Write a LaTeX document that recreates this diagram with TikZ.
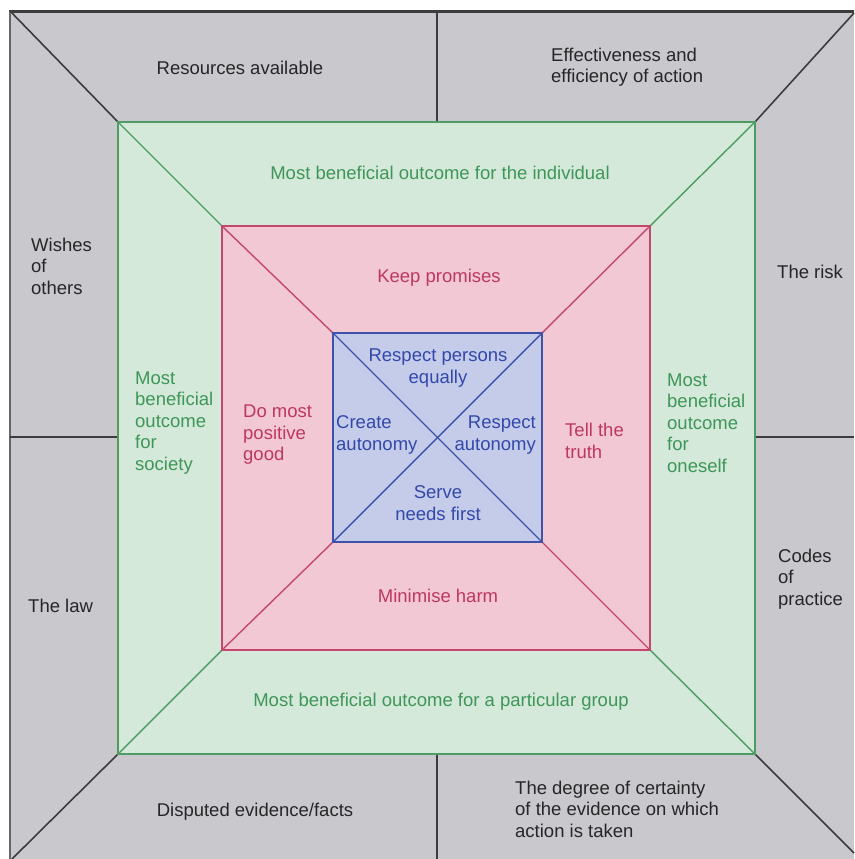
\documentclass[tikz,border=0pt]{standalone}
\usepackage{fontspec}
\setmainfont{Liberation Sans}
\definecolor{bggray}{RGB}{201,201,205}
\definecolor{edgegray}{RGB}{60,60,62}
\definecolor{greenfill}{RGB}{212,233,218}
\definecolor{greenline}{RGB}{78,155,100}
\definecolor{greentext}{RGB}{62,150,88}
\definecolor{pinkfill}{RGB}{241,200,212}
\definecolor{pinkline}{RGB}{196,72,110}
\definecolor{pinktext}{RGB}{190,55,100}
\definecolor{bluefill}{RGB}{196,204,234}
\definecolor{blueline}{RGB}{62,82,170}
\definecolor{bluetext}{RGB}{50,72,170}
\definecolor{graytext}{RGB}{38,38,40}
\tikzset{
  lbl/.style={inner sep=0pt, font=\fontsize{18.5}{21.5}\selectfont},
  graylbl/.style={lbl, text=graytext},
  greenlbl/.style={lbl, text=greentext},
  pinklbl/.style={lbl, text=pinktext},
  bluelbl/.style={lbl, text=bluetext},
  blackln/.style={draw=edgegray, line width=1.6pt},
  greenln/.style={draw=greenline, line width=1.4pt},
  pinkln/.style={draw=pinkline, line width=1.4pt},
  blueln/.style={draw=blueline, line width=1.4pt},
}
\begin{document}
\begin{tikzpicture}[x=1pt,y=-1pt]
\useasboundingbox (0,0) rectangle (854,859);
\fill[white] (0,0) rectangle (854,859);
% outer frame
\coordinate (O1) at (10,11);
\coordinate (O2) at (854,13);
\coordinate (O3) at (854,853);
\coordinate (O4) at (12,859);
\fill[bggray] (10,11) rectangle (854,859);
\draw[edgegray, line width=2.6pt] (9,11.5) -- (854,11.5);
\draw[gray!80!black, line width=1.2pt] (10,11) -- (10,859);
% green square
\coordinate (G1) at (118,122);
\coordinate (G2) at (755,122);
\coordinate (G3) at (755,754);
\coordinate (G4) at (118,754);
% pink square
\coordinate (P1) at (222,226);
\coordinate (P2) at (650,226);
\coordinate (P3) at (650,650);
\coordinate (P4) at (222,650);
% blue square
\coordinate (B1) at (333,333);
\coordinate (B2) at (542,333);
\coordinate (B3) at (542,542);
\coordinate (B4) at (333,542);
% dividers
\coordinate (Tm) at (437,11);
\coordinate (Tg) at (437,122);
\coordinate (Bm) at (437,859);
\coordinate (Bg) at (437,754);
\coordinate (Lm) at (10,437);
\coordinate (Lg) at (118,437);
\coordinate (Rm) at (854,437);
\coordinate (Rg) at (755,437);

\fill[greenfill] (G1) rectangle (G3);
\fill[pinkfill] (P1) rectangle (P3);
\fill[bluefill] (B1) rectangle (B3);

\draw[blackln] (O1) -- (G1);
\draw[blackln] (O2) -- (G2);
\draw[blackln] (O3) -- (G3);
\draw[blackln] (O4) -- (G4);
\draw[blackln] (Tm) -- (Tg);
\draw[blackln] (Bm) -- (Bg);
\draw[blackln] (Lm) -- (Lg);
\draw[blackln] (Rm) -- (Rg);

\draw[greenln] (G1) -- (G2) -- (G3) -- (G4) -- cycle;
\draw[greenln] (G1) -- (P1);
\draw[greenln] (G2) -- (P2);
\draw[greenln] (G3) -- (P3);
\draw[greenln] (G4) -- (P4);

\draw[pinkln] (P1) -- (P2) -- (P3) -- (P4) -- cycle;
\draw[pinkln] (P1) -- (B1);
\draw[pinkln] (P2) -- (B2);
\draw[pinkln] (P3) -- (B3);
\draw[pinkln] (P4) -- (B4);

\draw[blueln] (B1) -- (B2) -- (B3) -- (B4) -- cycle;
\draw[blueln] (B1) -- (B3);
\draw[blueln] (B2) -- (B4);

% gray labels
\node[graylbl] (res) at (240,68) {Resources available};
\node[graylbl, align=left, anchor=west] (eff) at (551,67) {Effectiveness and\\efficiency of action};
\node[graylbl, align=left, anchor=west] (wish) at (31,266) {Wishes\\of\\others};
\node[graylbl, anchor=west] (law) at (28,606) {The law};
\node[graylbl, anchor=west] (risk) at (777,272) {The risk};
\node[graylbl, align=left, anchor=west] (codes) at (778,579) {Codes\\of\\practice};
\node[graylbl] (disp) at (255,812) {Disputed evidence/facts};
\node[graylbl, align=left, anchor=west] (deg) at (515,809) {The degree of certainty\\of the evidence on which\\action is taken};

% green labels
\node[greenlbl] (gind) at (440,173) {Most beneficial outcome for the individual};
\node[greenlbl] (ggrp) at (441,702) {Most beneficial outcome for a particular group};
\node[greenlbl, align=left, anchor=west] (gsoc) at (135,423) {Most\\beneficial\\outcome\\for\\society};
\node[greenlbl, align=left, anchor=west] (gone) at (667,423) {Most\\beneficial\\outcome\\for\\oneself};

% pink labels
\node[pinklbl] (keep) at (439,278) {Keep promises};
\node[pinklbl] (harm) at (438,596) {Minimise harm};
\node[pinklbl, align=left, anchor=west] (good) at (243,435) {Do most\\positive\\good};
\node[pinklbl, align=left, anchor=west] (truth) at (565,441) {Tell the\\truth};

% blue labels
\node[bluelbl, align=center] (equal) at (438,368) {Respect persons\\equally};
\node[bluelbl, align=left, anchor=west] (create) at (336,435) {Create\\autonomy};
\node[bluelbl, align=right, anchor=east] (rauto) at (536,435) {Respect\\autonomy};
\node[bluelbl, align=center] (serve) at (438,503) {Serve\\needs first};
\end{tikzpicture}
\end{document}
